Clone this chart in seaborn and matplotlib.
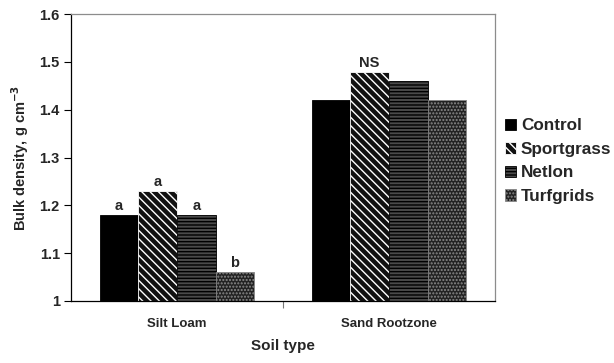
import matplotlib
matplotlib.use("Agg")
import matplotlib.pyplot as plt
import seaborn as sns
import pandas as pd
from matplotlib.patches import Patch
from matplotlib.ticker import FuncFormatter, FixedLocator

soils = ["Silt Loam", "Sand Rootzone"]
treatments = ["Control", "Sportgrass", "Netlon", "Turfgrids"]
silt_values = [1.18, 1.23, 1.18, 1.06]
sand_values = [1.42, 1.48, 1.46, 1.42]
silt_letters = ["a", "a", "a", "b"]
sand_letters = ["", "NS", "", ""]

rows = []
for t, v in zip(treatments, silt_values):
    rows.append({"Soil": soils[0], "Treatment": t, "Density": v})
for t, v in zip(treatments, sand_values):
    rows.append({"Soil": soils[1], "Treatment": t, "Density": v})
df = pd.DataFrame(rows)

sns.set_style("white")
plt.rcParams["font.family"] = ["Liberation Sans", "DejaVu Sans"]
plt.rcParams["font.weight"] = "bold"
plt.rcParams["hatch.linewidth"] = 1.0

fig = plt.figure(figsize=(6.14, 3.63), dpi=100)
ax = fig.add_axes([0.1156, 0.171, 0.6906, 0.790])

styles = {
    "Control": dict(fc="black", ec="black", hatch=None),
    "Sportgrass": dict(fc="#111111", ec="white", hatch="\\\\\\\\"),
    "Netlon": dict(fc="#4a4a4a", ec="black", hatch="-----"),
    "Turfgrids": dict(fc="#222222", ec="#8a8a8a", hatch="....."),
}

sns.barplot(data=df, x="Soil", y="Density", hue="Treatment", order=soils,
            hue_order=treatments, width=0.73, ax=ax, legend=False,
            palette=["black"] * 4, errorbar=None)

for t, cont in zip(treatments, ax.containers):
    st = styles[t]
    for bar in cont:
        bar.set_facecolor(st["fc"])
        bar.set_edgecolor(st["ec"])
        bar.set_linewidth(0.6)
        if st["hatch"]:
            bar.set_hatch(st["hatch"])

# significance letters
for i, t in enumerate(treatments):
    cont = ax.containers[i]
    for j, lab in enumerate([silt_letters[i], sand_letters[i]]):
        if lab:
            b = cont[j]
            ax.text(b.get_x() + b.get_width() / 2, b.get_height() + 0.004, lab,
                    ha="center", va="bottom", fontsize=10.5, fontweight="bold")

ax.set_ylim(1.0, 1.6)
ax.set_xlim(-0.5, 1.5)
ax.yaxis.set_major_locator(FixedLocator([1.0, 1.1, 1.2, 1.3, 1.4, 1.5, 1.6]))
ax.yaxis.set_major_formatter(FuncFormatter(lambda v, p: "1" if abs(v - 1) < 1e-9 else f"{v:.1f}"))
ax.tick_params(axis="y", which="major", direction="out", length=5, width=0.8,
               left=True, labelsize=10.5, pad=3, color="black")
ax.set_xticks([0, 1])
ax.set_xticklabels(soils, fontsize=9.5, fontweight="bold")
ax.tick_params(axis="x", which="major", length=0, pad=12)
ax.set_xticks([0.5], minor=True)
ax.tick_params(axis="x", which="minor", direction="out", length=5, width=0.8,
               bottom=True, color="#777777")
for lab in ax.get_yticklabels():
    lab.set_fontweight("bold")

ax.set_xlabel("Soil type", fontsize=11, fontweight="bold", labelpad=7)
ax.set_ylabel("Bulk density, g cm$^{\\mathbf{-3}}$", fontsize=10.5, fontweight="bold", labelpad=6)

for s in ["left", "bottom"]:
    ax.spines[s].set_color("black")
    ax.spines[s].set_linewidth(0.9)
for s in ["top", "right"]:
    ax.spines[s].set_color("#8c8c8c")
    ax.spines[s].set_linewidth(0.9)

handles = [Patch(facecolor=styles[t]["fc"], edgecolor=styles[t]["ec"],
                 hatch=styles[t]["hatch"], linewidth=0.6, label=t) for t in treatments]
fig.legend(handles=handles, loc="upper left", bbox_to_anchor=(0.822, 0.674),
           frameon=False, handlelength=0.65, handleheight=0.65,
           handletextpad=0.3, labelspacing=0.5, borderaxespad=0, borderpad=0,
           prop={"weight": "bold", "size": 12.3})

fig.savefig("out.png", dpi=100)
